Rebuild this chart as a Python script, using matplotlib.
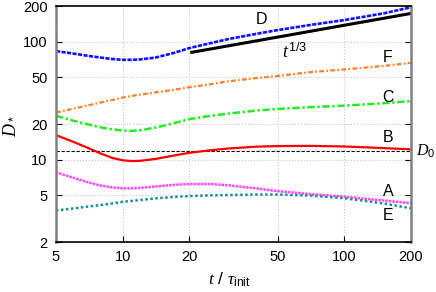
import matplotlib
matplotlib.use('Agg')
import matplotlib.pyplot as plt
import numpy as np

plt.rcParams['font.family'] = ['Liberation Sans', 'DejaVu Sans']
plt.rcParams['mathtext.fontset'] = 'custom'
plt.rcParams['mathtext.it'] = 'Liberation Serif:italic'
plt.rcParams['mathtext.rm'] = 'Liberation Sans'
plt.rcParams['mathtext.sf'] = 'Liberation Sans'

# time samples (t / tau_init)
t = [5, 6, 7, 8, 9, 10, 11, 12, 14, 17, 20, 25, 30, 40, 50, 70, 100, 150, 200]

D_d = [83, 79, 75.5, 73, 71, 70, 70, 70.5, 73, 80, 88, 97, 105, 116, 125, 138, 152, 173, 195]
D_f = [25, 27, 28.8, 30.5, 32, 33.5, 34.6, 35.5, 37, 39, 41, 43.5, 46, 49, 51, 55, 58, 62, 66]
D_c = [23.5, 21.3, 19.8, 18.7, 18, 17.6, 17.5, 17.7, 18.6, 20.3, 22, 23.5, 24.5, 26, 26.8, 27.8, 28.6, 30, 31.3]
D_b = [16.1, 14.1, 12.5, 11.2, 10.3, 9.85, 9.7, 9.75, 10.1, 10.8, 11.4, 12.0, 12.4, 12.85, 13.0, 13.05, 12.9, 12.5, 12.2]
D_a = [7.8, 7.0, 6.4, 6.0, 5.8, 5.7, 5.7, 5.75, 5.9, 6.1, 6.2, 6.2, 6.05, 5.7, 5.4, 5.1, 4.84, 4.5, 4.26]
D_e = [3.7, 3.85, 4.0, 4.12, 4.25, 4.38, 4.46, 4.54, 4.68, 4.82, 4.9, 4.97, 5.0, 5.05, 5.05, 4.95, 4.7, 4.25, 3.86]

t_fit = [20.5, 200]
d_fit = [81, 173]
D0 = 11.9

xticks = [5, 10, 20, 50, 100, 200]
yticks = [2, 5, 10, 20, 50, 100, 200]

W, H = 436, 292
fig = plt.figure(figsize=(W / 100, H / 100), dpi=100)
ax = fig.add_axes([56 / W, 1 - 242 / H, 355 / W, 236 / H])

ax.plot(t, D_d, color='#1010ff', lw=1.9, ls=(0, (1.6, 0.5)))
ax.plot(t_fit, d_fit, color='black', lw=2.2)
ax.plot(t, D_f, color='#ff7f2a', lw=1.6, ls=(0, (2.2, 1, 0.8, 1)))
ax.plot(t, D_c, color='#22ee22', lw=1.8, ls=(0, (3, 1, 1, 1)))
ax.axhline(D0, color='black', lw=0.8, ls=(0, (3, 1.5)))
ax.plot(t, D_b, color='#ff0000', lw=1.6)
ax.plot(t, D_a, color='#ff44ff', lw=1.8, ls=(0, (1, 0.4)))
ax.plot(t, D_e, color='#158f8f', lw=1.8, ls=(0, (1, 1)))

ax.set_xscale('log')
ax.set_yscale('log')
ax.set_xlim(5, 200)
ax.set_ylim(2, 200)
ax.set_xticks(xticks)
ax.set_xticklabels([str(v) for v in xticks])
ax.set_yticks(yticks)
ax.set_yticklabels([str(v) for v in yticks])
ax.minorticks_off()
ax.tick_params(direction='in', length=4, labelsize=10.5, right=True, pad=6)
ax.grid(True, color='#c8c8c8', ls=':', lw=0.8)
for s in ['left', 'right']:
    ax.spines[s].set_color('#808080')
    ax.spines[s].set_linewidth(1.8)
for s in ['top', 'bottom']:
    ax.spines[s].set_linewidth(1.2)


def label(px, py, s, size=11.5, **kw):
    fig.text(px / W, 1 - py / H, s, fontsize=size, ha='center', va='center', **kw)


label(261, 20, 'D')
label(388, 57, 'F')
label(388, 97, 'C')
label(388, 137, 'B')
label(388, 191, 'A')
label(388, 216, 'E')
label(295, 52, r'$t^{\mathrm{1/3}}$', size=13)
fig.text(416 / W, 1 - 151 / H, r'$D_0$', fontsize=11.5, ha='left', va='center')
label(9, 126, r'$D_*$', size=13, rotation=90)
label(229, 280, r'$t$ / $\tau_{\mathrm{init}}$', size=12.5)

fig.savefig('out.png', dpi=100)
